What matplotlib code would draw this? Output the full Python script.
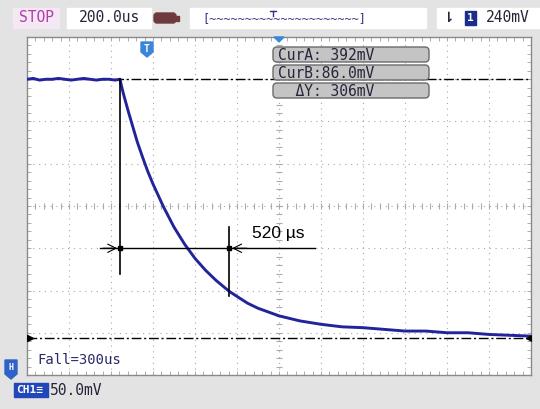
import matplotlib
matplotlib.use("Agg")
import matplotlib.pyplot as plt
from matplotlib.patches import FancyBboxPatch, Rectangle, Polygon
import numpy as np

# scope settings
time_per_div = 200.0      # us
volt_per_div = 50.0       # mV
n_hdiv, n_vdiv = 12, 8
v_bottom = 42.0           # mV at bottom of screen

# captured trace (us, mV)
t_us = [0, 30, 60, 90, 120, 150, 180, 210, 240, 270, 300, 330, 360, 390, 420, 443,
        450, 460, 470, 480, 500, 525, 550, 575, 600, 650, 700, 750,
        800, 850, 900, 963, 1000, 1050, 1100, 1200, 1300, 1400, 1500,
        1600, 1700, 1800, 1900, 2000, 2100, 2200, 2300, 2400]
trace_mv = [392, 393, 391, 392, 392, 393, 392, 391, 392, 393, 392, 391, 392, 392, 391, 392,
            384, 374, 365, 356, 339, 318, 300, 283, 268, 241, 217, 197,
            180, 166, 154, 141, 135, 127, 121, 112, 106, 102, 99,
            98, 96, 94, 94, 92, 92, 90, 89, 88]

cur_a, cur_b = 392, 86.0
fall_start, fall_end = 443, 963   # us, measured interval
fall_label = "520 µs"

W, H = 540, 409
fig = plt.figure(figsize=(W / 100, H / 100), dpi=100)
fig.patch.set_facecolor("#e3e3e3")

# screen area
x0, x1, ytop, ybot = 27, 531, 37, 375
ax = fig.add_axes([x0 / W, 1 - ybot / H, (x1 - x0) / W, (ybot - ytop) / H])
ax.set_facecolor("white")
ax.set_xlim(0, n_hdiv * time_per_div)
ax.set_ylim(v_bottom, v_bottom + n_vdiv * volt_per_div)
ax.set_xticks([])
ax.set_yticks([])
ax.set_xticks(np.arange(0, n_hdiv * time_per_div, time_per_div / 5), minor=True)
ax.set_yticks(np.arange(v_bottom, v_bottom + n_vdiv * volt_per_div, volt_per_div / 5), minor=True)
ax.tick_params(which="minor", direction="in", length=3, color="#a0a0a0",
               top=True, right=True, labelbottom=False, labelleft=False)
for s in ax.spines.values():
    s.set_color("#8a8a8a")
    s.set_linewidth(1.0)

# dotted division grid
for k in range(1, n_hdiv):
    ax.axvline(k * time_per_div, color="#a8a8a8", lw=0.8, ls=(0, (1, 4.2)), zorder=1)
for k in range(1, n_vdiv):
    ax.axhline(v_bottom + k * volt_per_div, color="#a8a8a8", lw=0.8, ls=(0, (1, 4.2)), zorder=1)

# tick marks on the centre cross
tc = n_hdiv * time_per_div / 2
vc = v_bottom + n_vdiv * volt_per_div / 2
ax.plot(np.arange(0, n_hdiv * time_per_div, time_per_div / 5), [vc] * 60,
        ls="none", marker="|", ms=4, mew=0.8, color="#ababab", zorder=1)
ax.plot([tc] * 40, np.arange(v_bottom, v_bottom + n_vdiv * volt_per_div, volt_per_div / 5),
        ls="none", marker="_", ms=4, mew=0.8, color="#ababab", zorder=1)

# cursor lines
for v in (cur_a, cur_b):
    ax.axhline(v, color="black", lw=1.0, ls=(0, (7, 2, 1.5, 2)), zorder=2)
ax.plot([12], [cur_b], marker=">", color="black", ms=5, zorder=4)
ax.plot([2390], [cur_b], marker="<", color="black", ms=5, zorder=4)

# waveform
ax.plot(t_us, trace_mv, color="#23239c", lw=2.1, zorder=3, solid_joinstyle="round")

# fall time measurement
ax.plot([fall_start, fall_start], [cur_a, 161], color="black", lw=1.2, zorder=5)
ax.plot([fall_end, fall_end], [217, 135], color="black", lw=1.2, zorder=5)
y_m = 192
ax.plot([348, 1371], [y_m, y_m], color="black", lw=1.0, zorder=5)
ax.annotate("", xy=(fall_start, y_m), xytext=(350, y_m),
            arrowprops=dict(arrowstyle="->,head_length=0.6,head_width=0.3",
                            color="black", lw=0.8), zorder=6)
ax.annotate("", xy=(fall_end, y_m), xytext=(1060, y_m),
            arrowprops=dict(arrowstyle="->,head_length=0.6,head_width=0.3",
                            color="black", lw=0.8), zorder=6)
ax.plot([fall_start, fall_end], [y_m, y_m], ls="none", marker="s", ms=2.5,
        color="black", zorder=6)
ax.text(1070, 200, fall_label, fontsize=12.5, family="Liberation Sans",
        ha="left", va="bottom", zorder=6)

ax.text(50, 52, "Fall=300us", family="DejaVu Sans Mono", fontsize=10,
        color="#2a2a6a", ha="left", va="bottom", zorder=6)

# overlay for the on-screen menus, pixel coordinates
ov = fig.add_axes([0, 0, 1, 1], zorder=10)
ov.set_xlim(0, W)
ov.set_ylim(H, 0)
ov.axis("off")
ov.patch.set_alpha(0)

mono = "DejaVu Sans Mono"
txt = "#25253a"

# top status bar
ov.add_patch(Rectangle((13, 8), 46, 20, color="#f3e8f3"))
ov.text(36, 18, "STOP", family=mono, fontsize=10.5, color="#b23ca8", ha="center", va="center")
ov.add_patch(Rectangle((67, 8), 84, 20, color="white"))
ov.text(109, 18, "200.0us", family=mono, fontsize=10.5, color=txt, ha="center", va="center")
ov.add_patch(FancyBboxPatch((154, 13), 22, 10, boxstyle="round,pad=0,rounding_size=3",
                            color="#6e3a3e"))
ov.add_patch(Rectangle((176, 15.5), 3, 5, color="#6e3a3e"))
ov.add_patch(Rectangle((190, 8), 236, 20, color="white"))
ov.text(284, 19, "[" + "~" * 21 + "]", family=mono, fontsize=8.5, color="#33338a",
        ha="center", va="center")
# trigger marker in the memory overview
ov.plot([270, 276], [10.5, 10.5], color="#33338a", lw=1.0)
ov.plot([273, 273], [10.5, 16], color="#33338a", lw=1.0)
ov.add_patch(Rectangle((437, 8), 103, 20, color="white"))
ov.text(449, 18, "⇂", fontsize=10, color=txt, ha="center", va="center", weight="bold")
ov.add_patch(Rectangle((465, 11), 11, 14, color="#1c2e8c"))
ov.text(470.5, 18, "1", family=mono, fontsize=8, color="white", ha="center", va="center",
        weight="bold")
ov.text(508, 18, "240mV", family=mono, fontsize=10.5, color=txt, ha="center", va="center")

# trigger position marker and screen centre marker
ov.add_patch(Polygon([[141, 42], [153, 42], [153, 52], [147, 57], [141, 52]],
                     color="#3b86d6"))
ov.text(147, 48.5, "T", family=mono, fontsize=7, color="white", ha="center", va="center",
        weight="bold")
ov.add_patch(Polygon([[274, 37], [284, 37], [279, 42]], color="#3b86d6"))

# cursor readout boxes
boxes = ["CurA: 392mV", "CurB:86.0mV", "  ΔY: 306mV"]
for i, s in enumerate(boxes):
    yb = 47 + i * 18
    ov.add_patch(FancyBboxPatch((273, yb), 156, 15, boxstyle="round,pad=0,rounding_size=4",
                                facecolor="#c4c4c4", edgecolor="#6a6a6a", lw=1.0))
    ov.text(278, yb + 8, s, family=mono, fontsize=10.5, color=txt, ha="left", va="center")

# channel ground marker
ov.add_patch(Polygon([[5, 360], [17, 360], [17, 374], [11, 379], [5, 374]], color="#2f62c8"))
ov.text(11, 368, "H", family=mono, fontsize=6, color="white", ha="center", va="center",
        weight="bold")

# channel scale
ov.add_patch(Rectangle((14, 383), 34, 14, color="#2147b8"))
ov.text(30, 390, "CH1≡", family=mono, fontsize=8, color="white", ha="center", va="center",
        weight="bold")
ov.text(50, 390.5, "50.0mV", family=mono, fontsize=10.5, color=txt, ha="left", va="center")

fig.savefig("out.png", dpi=100, facecolor=fig.get_facecolor())
